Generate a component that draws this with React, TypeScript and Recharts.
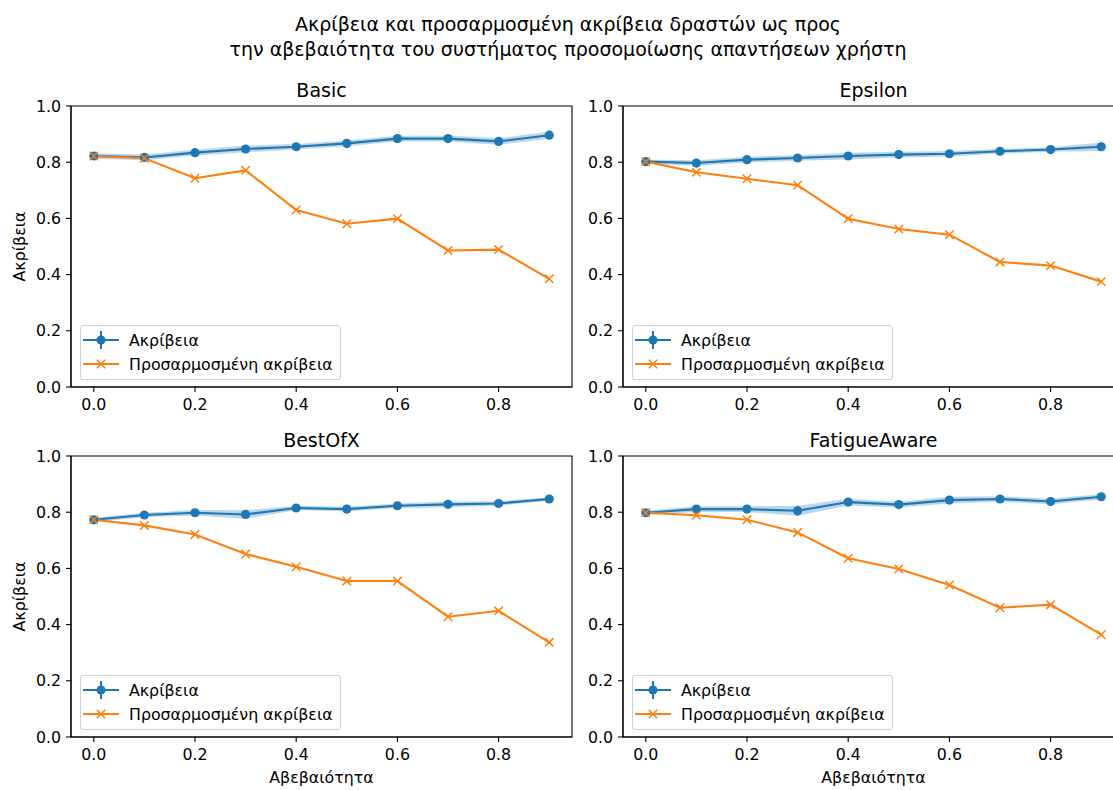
import { ComposedChart, Line, Area, XAxis, YAxis, ErrorBar, ReferenceArea, Legend } from 'recharts'

const FONT = 'DejaVu Sans'
const FS = 15.8
const TITLE_FS = 19
const BLUE = '#1f77b4'
const ORANGE = '#ff7f0e'

// x values: uncertainty of the simulated user
const uncertainty = [0, 0.1, 0.2, 0.3, 0.4, 0.5, 0.6, 0.7, 0.8, 0.9]
const xTicks = [0, 0.2, 0.4, 0.6, 0.8]
const yTicks = [0, 0.2, 0.4, 0.6, 0.8, 1.0]

const basicAcc = [0.822, 0.817, 0.834, 0.847, 0.855, 0.867, 0.884, 0.884, 0.874, 0.896]
const basicStd = [0.01, 0.01, 0.01, 0.012, 0.01, 0.01, 0.01, 0.01, 0.012, 0.012]
const basicAdj = [0.822, 0.814, 0.743, 0.771, 0.63, 0.581, 0.599, 0.486, 0.489, 0.385]

const epsilonAcc = [0.802, 0.797, 0.809, 0.815, 0.822, 0.827, 0.83, 0.839, 0.845, 0.855]
const epsilonStd = [0.008, 0.01, 0.01, 0.01, 0.012, 0.01, 0.01, 0.008, 0.008, 0.015]
const epsilonAdj = [0.802, 0.764, 0.741, 0.718, 0.599, 0.562, 0.542, 0.445, 0.432, 0.375]

const bestOfXAcc = [0.773, 0.79, 0.798, 0.792, 0.815, 0.811, 0.823, 0.828, 0.831, 0.847]
const bestOfXStd = [0.008, 0.008, 0.01, 0.015, 0.008, 0.008, 0.008, 0.01, 0.008, 0.006]
const bestOfXAdj = [0.773, 0.753, 0.721, 0.651, 0.606, 0.555, 0.555, 0.428, 0.449, 0.337]

const fatigueAcc = [0.798, 0.811, 0.811, 0.805, 0.836, 0.827, 0.843, 0.847, 0.838, 0.855]
const fatigueStd = [0.008, 0.01, 0.01, 0.018, 0.012, 0.01, 0.012, 0.01, 0.01, 0.01]
const fatigueAdj = [0.798, 0.789, 0.773, 0.728, 0.636, 0.598, 0.541, 0.46, 0.471, 0.364]

const buildRows = (acc: number[], std: number[], adj: number[]) =>
  uncertainty.map((u, i) => ({
    u,
    acc: acc[i],
    std: std[i],
    band: [acc[i] - std[i], acc[i] + std[i]],
    adj: adj[i],
  }))

const tickStyle = { fill: '#000', fontSize: FS, fontFamily: FONT }
const spine = { stroke: '#000', strokeWidth: 1.1 }

const CrossDot = (props: any) => {
  const { cx, cy, index } = props
  if (cx == null || cy == null) return <g key={index} />
  const s = 4.2
  return (
    <path
      key={index}
      d={`M${cx - s},${cy - s}L${cx + s},${cy + s}M${cx - s},${cy + s}L${cx + s},${cy - s}`}
      stroke={ORANGE}
      strokeWidth={1.5}
      fill="none"
    />
  )
}

const LegendBox = () => (
  <div
    style={{
      border: '1px solid #d0d0d0',
      borderRadius: 3,
      background: 'rgba(255,255,255,0.8)',
      padding: '2px 7px 3px 2px',
      fontFamily: FONT,
      fontSize: FS,
      color: '#000',
      whiteSpace: 'nowrap',
    }}
  >
    <div style={{ display: 'flex', alignItems: 'center', height: 24 }}>
      <svg width={36} height={24}>
        <line x1={0} y1={12} x2={36} y2={12} stroke={BLUE} strokeWidth={2} />
        <line x1={18} y1={3} x2={18} y2={21} stroke={BLUE} strokeWidth={2} />
        <circle cx={18} cy={12} r={4.6} fill={BLUE} />
      </svg>
      <span style={{ marginLeft: 10 }}>Ακρίβεια</span>
    </div>
    <div style={{ display: 'flex', alignItems: 'center', height: 24 }}>
      <svg width={36} height={24}>
        <line x1={0} y1={12} x2={36} y2={12} stroke={ORANGE} strokeWidth={2} />
        <path d="M13.8,7.8L22.2,16.2M13.8,16.2L22.2,7.8" stroke={ORANGE} strokeWidth={1.5} />
      </svg>
      <span style={{ marginLeft: 10 }}>Προσαρμοσμένη ακρίβεια</span>
    </div>
  </div>
)

interface PanelProps {
  title: string
  acc: number[]
  std: number[]
  adj: number[]
  left: number
  top: number
  yLabel?: boolean
  xLabel?: boolean
}

function Panel({ title, acc, std, adj, left, top, yLabel, xLabel }: PanelProps) {
  const rows = buildRows(acc, std, adj)
  return (
    <>
      <div
        style={{
          position: 'absolute',
          left: left + 71,
          top: top - 17,
          width: 501,
          textAlign: 'center',
          fontFamily: FONT,
          fontSize: TITLE_FS,
          lineHeight: 'normal',
          color: '#000',
        }}
      >
        {title}
      </div>
      <div style={{ position: 'absolute', left, top }}>
        <ComposedChart width={580} height={341} data={rows} margin={{ top: 10, right: 8, left: 0, bottom: 0 }}>
          <XAxis
            dataKey="u"
            type="number"
            domain={[-0.045, 0.945]}
            allowDataOverflow
            ticks={xTicks}
            tickFormatter={(v: number) => v.toFixed(1)}
            tick={tickStyle}
            tickSize={5}
            tickMargin={7}
            tickLine={spine}
            axisLine={spine}
            height={50}
            label={
              xLabel
                ? { value: 'Αβεβαιότητα', position: 'insideBottom', offset: 4, fill: '#000', fontSize: FS, fontFamily: FONT }
                : undefined
            }
          />
          <YAxis
            type="number"
            domain={[0, 1]}
            ticks={yTicks}
            tickFormatter={(v: number) => v.toFixed(1)}
            tick={tickStyle}
            tickSize={5}
            tickMargin={5}
            tickLine={spine}
            axisLine={spine}
            width={71}
            label={
              yLabel
                ? {
                    value: 'Ακρίβεια',
                    angle: -90,
                    position: 'insideLeft',
                    offset: 19,
                    fill: '#000',
                    fontSize: FS,
                    fontFamily: FONT,
                    style: { textAnchor: 'middle' },
                  }
                : undefined
            }
          />
          <ReferenceArea x1={-0.045} x2={0.945} y1={0} y2={1} fill="none" stroke="#000" strokeWidth={1.1} ifOverflow="visible" />
          <Area
            dataKey="band"
            type="linear"
            stroke="none"
            fill={BLUE}
            fillOpacity={0.3}
            isAnimationActive={false}
            legendType="none"
          />
          <Line
            dataKey="acc"
            type="linear"
            stroke={BLUE}
            strokeWidth={2.1}
            dot={{ r: 4.6, fill: BLUE, stroke: BLUE, strokeWidth: 0 }}
            activeDot={false}
            isAnimationActive={false}
          >
            <ErrorBar dataKey="std" direction="y" width={0} stroke={BLUE} strokeWidth={1.5} />
          </Line>
          <Line
            dataKey="adj"
            type="linear"
            stroke={ORANGE}
            strokeWidth={2.1}
            dot={CrossDot}
            activeDot={false}
            isAnimationActive={false}
          />
          <Legend
            layout="vertical"
            align="center"
            verticalAlign="middle"
            content={LegendBox}
            wrapperStyle={{ left: 80, top: 229, width: 'auto', height: 'auto' }}
          />
        </ComposedChart>
      </div>
    </>
  )
}

export default function App() {
  return (
    <div
      style={{
        position: 'absolute',
        left: 0,
        top: 0,
        width: 1113,
        height: 790,
        overflow: 'hidden',
        background: '#fff',
      }}
    >
      <div
        style={{
          position: 'absolute',
          left: 0,
          top: 12,
          width: 1136,
          textAlign: 'center',
          fontFamily: FONT,
          fontSize: TITLE_FS,
          lineHeight: '25px',
          color: '#000',
        }}
      >
        <div>Ακρίβεια και προσαρμοσμένη ακρίβεια δραστών ως προς</div>
        <div>την αβεβαιότητα του συστήματος προσομοίωσης απαντήσεων χρήστη</div>
      </div>
      <Panel title="Basic" acc={basicAcc} std={basicStd} adj={basicAdj} left={0} top={96} yLabel />
      <Panel title="Epsilon" acc={epsilonAcc} std={epsilonStd} adj={epsilonAdj} left={552} top={96} />
      <Panel title="BestOfX" acc={bestOfXAcc} std={bestOfXStd} adj={bestOfXAdj} left={0} top={446} yLabel xLabel />
      <Panel title="FatigueAware" acc={fatigueAcc} std={fatigueStd} adj={fatigueAdj} left={552} top={446} xLabel />
    </div>
  )
}
